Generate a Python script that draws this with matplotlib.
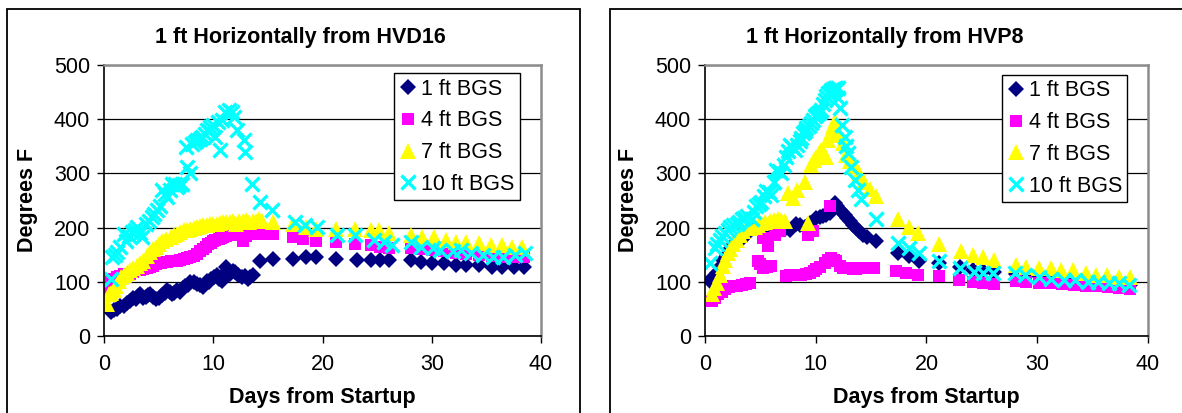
import matplotlib
matplotlib.use('Agg')
import matplotlib.pyplot as plt
from matplotlib.patches import Rectangle

plt.rcParams['font.family'] = ['Liberation Sans', 'DejaVu Sans']

# ── data: HVD16 (left panel) ─────────────────────────────────────────────────
# early readings are logged several times a day, later ones about daily
HVD16_1FT_DAYS = [0.6, 1.2, 1.8, 2.4, 2.9, 3.3, 3.8, 4.2, 4.8, 5.3, 5.8, 6.2, 6.7, 7.0,
                  7.4, 7.9, 8.5, 9.1, 9.4, 9.8, 10.3, 10.8, 11.2, 11.5, 12.0, 12.6, 13.2,
                  13.6, 14.3, 15.5, 17.3, 18.5, 19.4, 21.2, 23.2, 24.4, 25.3, 26.1, 28.1,
                  29.0, 30.0, 31.1, 32.2, 33.1, 34.3, 35.5, 36.4, 37.5, 38.4,
                  0.9, 1.5, 2.1, 2.65, 3.1, 3.55, 4.0, 4.5, 5.05, 5.55, 6.0, 6.45,
                  7.2, 7.65, 8.2, 8.8, 9.6, 10.05, 10.55, 11.0, 11.8, 12.3, 12.9, 13.4]
HVD16_1FT_TEMP = [44, 50, 56, 65, 68, 78, 72, 78, 68, 75, 84, 78, 84, 81,
                  93, 99, 96, 90, 102, 105, 112, 102, 127, 115, 118, 108, 105,
                  112, 139, 142, 142, 145, 145, 142, 140, 140, 140, 140, 140,
                  137, 134, 134, 131, 131, 131, 128, 128, 128, 128,
                  48, 55, 60, 70, 74, 70, 76, 72, 70, 80, 82, 80,
                  88, 95, 100, 94, 100, 108, 106, 115, 120, 112, 110, 108]

HVD16_4FT_DAYS = [0.3, 0.6, 1.2, 1.8, 2.4, 3.0, 3.6, 4.2, 4.8, 5.5, 6.1, 6.7, 7.3, 7.9,
                  8.5, 9.1, 9.5, 10.0, 10.5, 10.9, 11.5, 12.1, 12.7, 13.3, 13.9, 14.5,
                  15.5, 17.3, 18.2, 19.4, 21.2, 23.0, 24.4, 25.3, 26.1, 28.1, 29.0, 30.0,
                  31.1, 32.2, 33.1, 34.3, 35.5, 36.4, 37.5, 38.4,
                  0.9, 1.5, 2.1, 2.7, 3.3, 3.9, 4.5, 5.2, 5.8, 6.4, 7.0, 7.6,
                  8.2, 8.8, 9.3, 9.8, 10.2, 10.7, 11.2, 11.8, 12.4, 13.0, 13.6, 14.2]
HVD16_4FT_TEMP = [84, 102, 108, 115, 115, 121, 124, 127, 133, 136, 139, 139, 142, 145,
                  152, 161, 170, 176, 179, 182, 186, 189, 176, 189, 189, 189,
                  189, 182, 179, 176, 173, 170, 168, 165, 163, 163, 160, 158,
                  156, 154, 152, 150, 148, 146, 146, 145,
                  105, 110, 114, 118, 122, 126, 130, 134, 137, 139, 140, 143,
                  148, 156, 165, 172, 178, 180, 184, 187, 188, 185, 188, 190]

HVD16_7FT_DAYS = [0.3, 0.45, 0.9, 1.4, 1.8, 2.4, 3.0, 3.6, 4.2, 4.8, 5.3, 6.1, 6.7, 7.3,
                  7.9, 8.5, 9.1, 9.7, 10.3, 10.9, 11.5, 12.1, 12.7, 13.3, 13.9, 14.5,
                  15.5, 17.3, 18.5, 19.4, 21.2, 23.0, 24.4, 25.2, 26.1, 28.1, 29.1, 30.2,
                  31.3, 32.2, 33.1, 34.3, 35.4, 36.4, 37.3, 38.3,
                  0.6, 1.1, 1.6, 2.1, 2.7, 3.3, 3.9, 4.5, 5.0, 5.7, 6.4, 7.0,
                  7.6, 8.2, 8.8, 9.4, 10.0, 10.6, 11.2, 11.8, 12.4, 13.0, 13.6, 14.2]
HVD16_7FT_TEMP = [59, 78, 84, 102, 112, 121, 130, 139, 155, 164, 176, 182, 189, 195,
                  198, 201, 204, 207, 207, 210, 210, 207, 213, 210, 213, 213,
                  210, 207, 201, 198, 198, 198, 195, 195, 190, 186, 183, 183,
                  177, 174, 174, 172, 168, 168, 165, 165,
                  80, 92, 108, 116, 126, 135, 147, 160, 170, 179, 186, 192,
                  196, 200, 203, 205, 207, 209, 210, 212, 212, 214, 212, 215]

HVD16_10FT_DAYS = [0.67, 0.76, 1.22, 1.83, 2.01, 2.59, 3.04, 3.5, 3.81, 4.41, 4.87, 5.33,
                   5.78, 6.24, 6.7, 7.15, 7.61, 7.91, 7.46, 8.07, 8.52, 8.98, 9.44, 9.74,
                   10.2, 10.65, 10.81, 11.11, 11.42, 11.72, 11.87, 12.18, 12.79, 12.94,
                   13.55, 14.31, 15.37, 17.5, 18.42, 19.48, 21.3, 23.0, 24.7, 25.6, 26.4,
                   28.1, 29.0, 30.1, 30.8, 31.9, 32.7, 33.6, 34.7, 35.6, 36.5, 37.6, 38.5,
                   1.0, 1.5, 2.3, 2.8, 3.3, 4.1, 4.6, 5.1, 5.55, 6.0, 6.5, 6.9,
                   8.3, 8.75, 9.2, 9.6, 10.0, 10.4]
HVD16_10FT_TEMP = [105, 146, 155, 189, 176, 192, 201, 182, 207, 219, 232, 269,
                   256, 281, 275, 281, 312, 300, 349, 355, 361, 367, 380, 386,
                   367, 343, 398, 414, 417, 414, 404, 380, 361, 340,
                   281, 247, 232, 210, 204, 201, 186, 186, 177, 174, 168,
                   174, 165, 162, 159, 156, 159, 153, 150, 146, 146, 150, 153,
                   150, 165, 185, 196, 190, 212, 225, 240, 262, 270, 280, 278,
                   358, 364, 372, 378, 390, 395]

# ── data: HVP8 (right panel) ─────────────────────────────────────────────────
HVP8_1FT_DAYS = [0.45, 1.05, 1.65, 2.25, 2.85, 3.45, 4.05, 4.95, 5.85, 6.75, 7.65, 8.25,
                 9.0, 10.05, 10.65, 11.25, 11.7, 12.15, 12.6, 13.05, 13.65, 14.25, 15.45,
                 17.4, 18.4, 19.3, 21.1, 23.0, 24.2, 25.1, 26.1, 28.1, 29.0, 30.2, 31.2,
                 32.3, 33.3, 34.5, 35.4, 36.4, 37.4, 38.4,
                 0.75, 1.35, 1.95, 2.55, 3.15, 3.75, 4.5, 5.4, 6.3, 7.2, 8.6, 9.5,
                 10.35, 10.95, 11.5, 11.9, 12.35, 12.8, 13.35, 13.95, 14.6]
HVP8_1FT_TEMP = [101, 117, 141, 160, 175, 181, 196, 202, 196, 199, 196, 206,
                 202, 218, 221, 227, 245, 233, 224, 212, 199, 187, 175,
                 153, 147, 138, 135, 128, 122, 120, 118, 115, 113, 110, 108,
                 105, 104, 102, 100, 98, 97, 95,
                 108, 128, 150, 168, 178, 188, 200, 199, 197, 198, 204, 208,
                 220, 224, 235, 240, 229, 218, 205, 193, 183]

HVP8_4FT_DAYS = [0.6, 1.2, 1.8, 2.55, 3.3, 4.05, 4.8, 5.25, 6.0, 7.35, 7.95, 8.7, 9.45,
                 10.05, 10.8, 11.4, 11.85, 12.45, 13.05, 13.65, 14.55, 15.3, 17.25, 18.15,
                 19.2, 21.1, 5.25, 5.7, 6.3, 6.75, 9.3, 9.75, 11.25, 22.9, 24.2, 25.1,
                 26.1, 28.1, 29.0, 30.2, 31.2, 32.2, 33.3, 34.4, 35.3, 36.4, 37.4, 38.4,
                 0.9, 1.5, 2.2, 2.9, 3.7, 5.0, 5.6, 7.65, 8.3, 9.1, 9.8, 10.4,
                 11.1, 11.65, 12.15, 12.75, 13.35, 14.1, 14.9]
HVP8_4FT_TEMP = [64, 77, 86, 92, 95, 98, 138, 126, 129, 110, 113, 113, 117,
                 123, 135, 144, 138, 126, 126, 123, 126, 126, 120, 117,
                 113, 110, 181, 166, 187, 193, 187, 193, 239, 103, 100, 98,
                 96, 101, 100, 97, 97, 96, 95, 93, 92, 90, 88, 86,
                 70, 82, 90, 93, 96, 133, 128, 112, 113, 115, 120, 128,
                 140, 141, 130, 126, 124, 125, 126]

HVP8_7FT_DAYS = [0.6, 1.05, 1.65, 2.1, 2.55, 3.15, 3.75, 4.5, 5.1, 5.85, 6.6, 7.2, 7.5,
                 7.95, 9.0, 9.3, 9.6, 10.05, 10.5, 10.95, 11.1, 11.4, 11.7, 11.85, 12.45,
                 12.75, 13.5, 14.4, 15.45, 17.4, 18.4, 19.2, 21.1, 23.1, 24.2, 25.1, 26.1,
                 28.1, 29.0, 30.2, 31.2, 32.1, 33.2, 34.4, 35.3, 36.3, 37.4, 38.4,
                 0.85, 1.35, 1.85, 2.3, 2.85, 3.45, 4.1, 4.8, 5.45, 6.2, 6.9, 8.3,
                 9.8, 10.3, 10.7, 11.25, 11.55, 12.1, 13.1, 13.9, 14.9]
HVP8_7FT_TEMP = [77, 98, 129, 153, 169, 187, 199, 202, 209, 212, 215, 212, 264,
                 255, 285, 209, 316, 331, 344, 331, 362, 377, 396, 380, 356,
                 334, 313, 285, 258, 215, 202, 190, 169, 156, 150, 146, 140,
                 131, 128, 125, 125, 122, 122, 116, 113, 113, 109, 109,
                 88, 112, 140, 160, 178, 194, 200, 205, 211, 214, 214, 270,
                 325, 338, 335, 370, 388, 370, 323, 300, 272]

HVP8_10FT_DAYS = [0.45, 0.9, 1.35, 1.8, 2.25, 2.85, 3.3, 3.75, 4.2, 4.65, 5.1, 5.55, 6.0,
                  6.45, 6.9, 7.35, 7.65, 8.1, 8.55, 8.85, 9.15, 9.6, 9.9, 10.2, 10.5, 10.8,
                  11.1, 11.4, 11.7, 12.0, 12.15, 12.6, 12.9, 13.5, 14.1, 15.4, 17.4, 18.4,
                  19.3, 21.1, 23.0, 24.3, 25.1, 26.0, 28.0, 28.9, 30.2, 31.2, 32.4, 33.4,
                  34.6, 35.5, 36.5, 37.4, 38.3,
                  1.1, 1.55, 2.05, 2.55, 3.05, 3.55, 4.45, 4.85, 5.35, 5.8, 6.2, 6.65,
                  7.1, 7.5, 7.9, 8.3, 8.7, 9.0, 9.35, 9.75, 10.05, 10.35, 10.65, 10.95,
                  11.25, 11.55, 11.85, 12.05, 12.4, 12.75, 13.2, 13.8]
HVP8_10FT_TEMP = [135, 163, 178, 190, 202, 206, 215, 221, 215, 239, 248, 267, 261,
                  307, 301, 331, 353, 344, 359, 374, 383, 393, 405, 411, 417, 436,
                  448, 454, 457, 457, 420, 368, 337, 288, 252, 215, 172, 163,
                  153, 138, 125, 119, 116, 116, 116, 113, 109, 106, 103, 103,
                  100, 100, 97, 97, 94,
                  170, 184, 196, 204, 210, 218, 228, 244, 258, 265, 285, 304,
                  316, 342, 348, 352, 366, 378, 388, 398, 408, 414, 428, 442,
                  451, 456, 458, 440, 390, 350, 312, 270]

LABELS = ['1 ft BGS', '4 ft BGS', '7 ft BGS', '10 ft BGS']
X_TICKS = [0, 10, 20, 30, 40]
Y_TICKS = [0, 100, 200, 300, 400, 500]

# ── styling ──────────────────────────────────────────────────────────────────
# (marker, color, markersize, edge width)
STYLES = [
    ('D', '#000080', 8.5, 0.0),
    ('s', '#FF00FF', 8.5, 0.0),
    ('^', '#FFFF00', 11.5, 0.0),
    ('x', '#00FFFF', 10.5, 2.4),
]

W, H = 1182, 413
FS = 15.5


def px_rect(x0, y0, x1, y1):
    """Pixel box (top-left origin) -> figure fraction [l, b, w, h]."""
    return [x0 / W, 1 - y1 / H, (x1 - x0) / W, (y1 - y0) / H]


def panel(fig, box, series, title, title_x, legend_anchor):
    ax = fig.add_axes(px_rect(*box))
    for (days, temps), label, (mk, col, ms, mew) in zip(series, LABELS, STYLES):
        if mk == 'x':
            ax.plot(days, temps, ls='none', marker=mk, color=col, ms=ms,
                    mew=mew, label=label, zorder=3)
        else:
            ax.plot(days, temps, ls='none', marker=mk, color=col, ms=ms,
                    mec=col, mew=mew, label=label, zorder=3)

    ax.set_xlim(0, 40)
    ax.set_ylim(0, 500)
    ax.set_xticks(X_TICKS)
    ax.set_yticks(Y_TICKS)
    ax.tick_params(direction='out', length=5, width=1.0, labelsize=FS, color='black')
    ax.tick_params(axis='x', pad=8)
    ax.tick_params(axis='y', pad=5)
    ax.yaxis.grid(True, color='black', lw=0.9)
    ax.set_axisbelow(True)
    for side in ('top', 'right'):
        ax.spines[side].set_color('#8c8c8c')
        ax.spines[side].set_linewidth(1.8)
    for side in ('left', 'bottom'):
        ax.spines[side].set_color('black')
        ax.spines[side].set_linewidth(1.2)
    for s in ax.spines.values():
        s.set_zorder(4)

    leg = ax.legend(loc='upper left', bbox_to_anchor=legend_anchor, borderaxespad=0,
                    fancybox=False, edgecolor='black', framealpha=1, fontsize=FS,
                    handlelength=0.8, handletextpad=0.2, labelspacing=0.5,
                    borderpad=0.25)
    leg.get_frame().set_linewidth(1.0)
    leg.set_zorder(5)

    x0, y0, x1, y1 = box
    fig.text(title_x / W, 1 - 37 / H, title, ha='center', va='center',
             fontsize=FS, fontweight='bold')
    fig.text((x0 + x1) / 2 / W, 1 - 397 / H, 'Days from Startup', ha='center',
             va='center', fontsize=FS, fontweight='bold')
    fig.text((x0 - 76) / W, 1 - 200 / H, 'Degrees F', ha='center', va='center',
             rotation=90, fontsize=FS, fontweight='bold')
    return ax


fig = plt.figure(figsize=(W / 100, H / 100), dpi=100)

# outer chart-area frames
for l, r in ((7, 580), (610, 1200)):
    fig.patches.append(Rectangle((l / W, -0.1), (r - l) / W, 0.1 + 1 - 9 / H,
                                 transform=fig.transFigure, fill=False,
                                 edgecolor='black', lw=1.3, clip_on=False))

panel(fig, (104, 65, 541, 336),
      [(HVD16_1FT_DAYS, HVD16_1FT_TEMP), (HVD16_4FT_DAYS, HVD16_4FT_TEMP),
       (HVD16_7FT_DAYS, HVD16_7FT_TEMP), (HVD16_10FT_DAYS, HVD16_10FT_TEMP)],
      '1 ft Horizontally from HVD16', 300, (0.664, 0.97))

panel(fig, (705, 65, 1148, 336),
      [(HVP8_1FT_DAYS, HVP8_1FT_TEMP), (HVP8_4FT_DAYS, HVP8_4FT_TEMP),
       (HVP8_7FT_DAYS, HVP8_7FT_TEMP), (HVP8_10FT_DAYS, HVP8_10FT_TEMP)],
      '1 ft Horizontally from HVP8', 885, (0.67, 0.963))

fig.savefig('out.png', dpi=100)
